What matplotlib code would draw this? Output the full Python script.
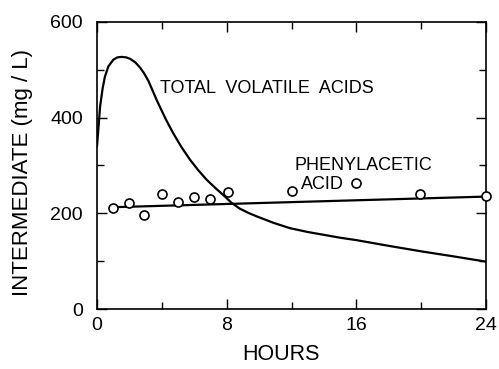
import matplotlib
matplotlib.use("Agg")
import matplotlib.pyplot as plt
from matplotlib.ticker import MultipleLocator

plt.rcParams['font.family'] = ['Liberation Sans', 'DejaVu Sans']

# Total volatile acids curve
tva_hours = [0.0, 0.19, 0.35, 0.49, 0.7, 1.0, 1.25, 1.52, 1.8, 2.04, 2.35, 2.65, 2.9, 3.17,
             3.4, 3.68, 4.0, 4.3, 4.71, 5.2, 5.74, 6.25, 6.77, 7.3, 7.8, 8.3, 8.8, 9.4,
             9.9, 10.9, 11.9, 13.0, 14.0, 15.0, 16.0, 18.0, 20.1, 22.0, 24.0]
tva_values = [340, 423, 462, 486, 507, 521, 526, 527, 526, 523, 516, 505, 493, 477,
              459, 437, 414, 393, 367, 339, 312, 290, 270, 253, 238, 222, 210, 200,
              193, 180, 169, 161, 155, 149, 144, 132, 120, 110, 99]

# Phenylacetic acid observations
pa_hours = [1.0, 2.0, 2.9, 4.0, 5.0, 6.0, 7.0, 8.1, 12.0, 16.0, 19.9, 24.0]
pa_values = [212, 222, 197, 240, 224, 235, 229, 244, 247, 264, 240, 236]

# Phenylacetic acid fitted line
pa_fit_hours = [1.2, 24.0]
pa_fit_values = [213, 235]

x_ticks = [0, 8, 16, 24]
y_ticks = [0, 200, 400, 600]

fig = plt.figure(figsize=(4.99, 3.69), dpi=100)
ax = fig.add_axes([0.1944, 0.1626, 0.7796, 0.7778])

ax.plot(tva_hours, tva_values, color='black', lw=1.6, solid_capstyle='round',
        solid_joinstyle='round')
ax.plot(pa_fit_hours, pa_fit_values, color='black', lw=1.6)
ax.plot(pa_hours, pa_values, 'o', mfc='white', mec='black', mew=1.2, ms=6.5,
        clip_on=False, zorder=5)

ax.set_xlim(0, 24)
ax.set_ylim(0, 600)
ax.set_xticks(x_ticks)
ax.set_yticks(y_ticks)
ax.xaxis.set_minor_locator(MultipleLocator(4))
ax.yaxis.set_minor_locator(MultipleLocator(100))
ax.tick_params(which='both', direction='in', top=True, right=True, labelsize=14,
               width=1.0)
ax.tick_params(axis='y', pad=10)
ax.tick_params(axis='x', pad=6)
ax.tick_params(which='major', length=7)
ax.tick_params(which='minor', length=5)
for s in ax.spines.values():
    s.set_linewidth(1.2)

ax.set_xlabel('HOURS', fontsize=15.5, va='top')
ax.xaxis.set_label_coords(0.473, -0.122)
ax.set_ylabel('INTERMEDIATE (mg / L)', fontsize=16)
ax.yaxis.set_label_coords(-0.165, 0.474)

ax.text(3.9, 460, 'TOTAL  VOLATILE  ACIDS', fontsize=13, ha='left', va='center')
ax.text(12.2, 299, 'PHENYLACETIC', fontsize=13, ha='left', va='center')
ax.text(12.6, 260, 'ACID', fontsize=13, ha='left', va='center')

fig.savefig('out.png', dpi=100)
